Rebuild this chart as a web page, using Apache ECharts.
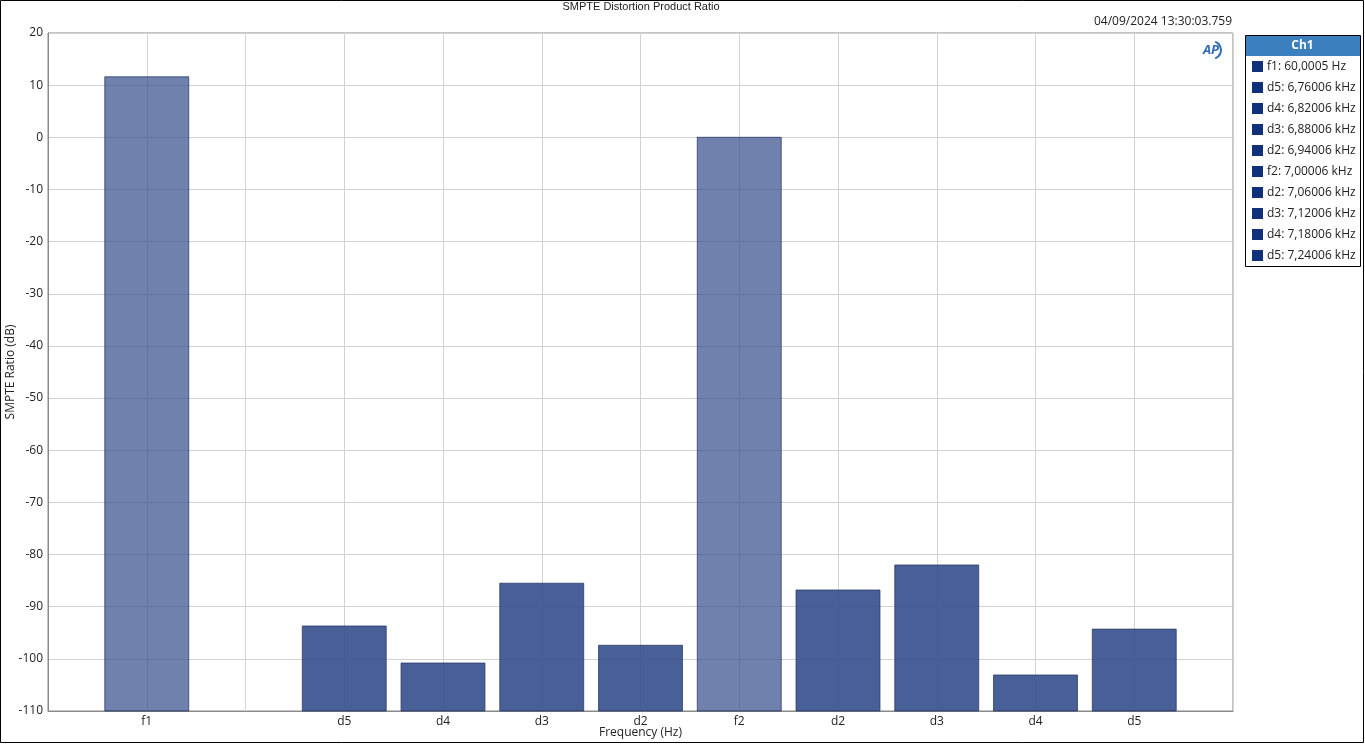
<!DOCTYPE html>
<html><head><meta charset="utf-8">
<script src="https://cdn.jsdelivr.net/npm/echarts@6/dist/echarts.min.js"></script>
<style>html,body{margin:0;padding:0;background:#fff}#c{width:1365px;height:744px}</style>
</head><body><div id="c"></div>
<script>
// Category slots (empty strings are spacer slots)
const categories = ['', 'f1', '', 'd5', 'd4', 'd3', 'd2', 'f2', 'd2', 'd3', 'd4', 'd5', ''];
// SMPTE ratio values in dB (null = no bar)
const values = [null, 11.6, null, -93.7, -100.8, -85.5, -97.4, 0.0, -86.8, -82.0, -103.1, -94.3, null];
// Fundamental flags (lighter bars)
const isFundamental = [false, true, false, false, false, false, false, true, false, false, false, false, false];
const yTicks = { min: -110, max: 20, interval: 10 };
const legendTitle = 'Ch1';
const legendLabels = ['f1: 60,0005 Hz', 'd5: 6,76006 kHz', 'd4: 6,82006 kHz', 'd3: 6,88006 kHz', 'd2: 6,94006 kHz',
  'f2: 7,00006 kHz', 'd2: 7,06006 kHz', 'd3: 7,12006 kHz', 'd4: 7,18006 kHz', 'd5: 7,24006 kHz'];
const titleText = 'SMPTE Distortion Product Ratio';
const timestamp = '04/09/2024 13:30:03.759';

const data = [];
values.forEach((v, i) => { if (v !== null) data.push([i, v, isFundamental[i] ? 1 : 0]); });

const FONT = "'Open Sans', 'Noto Sans', sans-serif";
const chart = echarts.init(document.getElementById('c'), null, { renderer: 'canvas' });

const legendX = 1245, legendY = 35, legendW = 115, rowH = 21, headH = 20;
const legendEls = [
  { type: 'rect', shape: { x: legendX + 0.5, y: legendY + 0.5, width: legendW, height: headH + rowH * legendLabels.length + 1 },
    style: { fill: '#fff', stroke: '#000', lineWidth: 1 } },
  { type: 'rect', shape: { x: legendX + 1, y: legendY + 1, width: legendW - 1, height: headH },
    style: { fill: '#3b7fbf' } },
  { type: 'text', x: legendX + legendW / 2, y: legendY + 1 + headH / 2,
    style: { text: legendTitle, fill: '#fff', font: "bold 12px " + FONT, align: 'center', verticalAlign: 'middle' } }
];
legendLabels.forEach((t, i) => {
  const cy = legendY + headH + rowH * i + rowH / 2 + 1;
  legendEls.push({ type: 'rect', shape: { x: legendX + 7, y: cy - 5.5, width: 11, height: 11 }, style: { fill: '#11307c' } });
  legendEls.push({ type: 'text', x: legendX + 22, y: cy, style: { text: t, fill: '#222', font: "12px " + FONT, verticalAlign: 'middle' } });
});

const option = {
  backgroundColor: '#fff',
  animation: false,
  grid: { left: 48, right: 132, top: 33, bottom: 33, containLabel: false, outerBoundsMode: 'none',
    show: true, borderColor: '#8a8a8a', borderWidth: 1 },
  xAxis: {
    type: 'category', data: categories, boundaryGap: false,
    name: 'Frequency (Hz)', nameLocation: 'middle', nameGap: 16, nameMoveOverlap: false,
    nameTextStyle: { fontFamily: FONT, fontSize: 12, color: '#222' },
    axisLine: { show: true, onZero: false, lineStyle: { color: '#8a8a8a' } },
    axisTick: { show: false },
    axisLabel: { interval: 0, fontFamily: FONT, fontSize: 12, color: '#222', margin: 5 },
    splitLine: { show: true, interval: 0, lineStyle: { color: '#d2d2d2', width: 1 } }
  },
  yAxis: {
    type: 'value', min: yTicks.min, max: yTicks.max, interval: yTicks.interval,
    name: 'SMPTE Ratio (dB)', nameLocation: 'middle', nameGap: 31, nameRotate: 90, nameMoveOverlap: false,
    nameTextStyle: { fontFamily: FONT, fontSize: 12, color: '#222' },
    axisLine: { show: true, onZero: false, lineStyle: { color: '#8a8a8a' } },
    axisTick: { show: false },
    axisLabel: { fontFamily: FONT, fontSize: 12, color: '#222', margin: 5 },
    splitLine: { show: true, lineStyle: { color: '#d2d2d2', width: 1 } }
  },
  series: [{
    type: 'custom',
    data: data,
    encode: { x: 0, y: 1 },
    renderItem: function (params, api) {
      const x = api.value(0), v = api.value(1), f = api.value(2);
      const top = api.coord([x, v]);
      const bot = api.coord([x, yTicks.min]);
      const w = api.size([1, 0])[0] * 0.85;
      return {
        type: 'rect',
        shape: { x: top[0] - w / 2, y: top[1], width: w, height: bot[1] - top[1] },
        style: { fill: f ? 'rgba(51,76,139,0.7)' : 'rgba(52,78,140,0.9)', stroke: 'rgba(40,55,100,0.75)', lineWidth: 1 }
      };
    },
    z: 3
  }],
  graphic: [
    { type: 'rect', shape: { x: 0.5, y: 0.5, width: 1363, height: 742 }, style: { fill: null, stroke: '#000', lineWidth: 1 }, silent: true },
    { type: 'text', x: 641, y: 7, style: { text: titleText, fill: '#222', font: "11px 'Liberation Sans', Arial, sans-serif", align: 'center', verticalAlign: 'middle' } },
    { type: 'text', x: 1232, y: 22, style: { text: timestamp, fill: '#222', font: "12px " + FONT, align: 'right', verticalAlign: 'middle' } },
    { type: 'text', x: 1211, y: 50, z: 10, style: { text: 'AP', fill: '#2f6db5', font: "italic bold 13px " + FONT, align: 'center', verticalAlign: 'middle' } },
    { type: 'arc', z: 10, shape: { cx: 1212, cy: 50, r: 9, startAngle: -Math.PI / 2.6, endAngle: Math.PI / 2.6 }, style: { stroke: '#2f6db5', lineWidth: 2, fill: null } }
  ].concat(legendEls)
};
chart.setOption(option);
</script></body></html>
